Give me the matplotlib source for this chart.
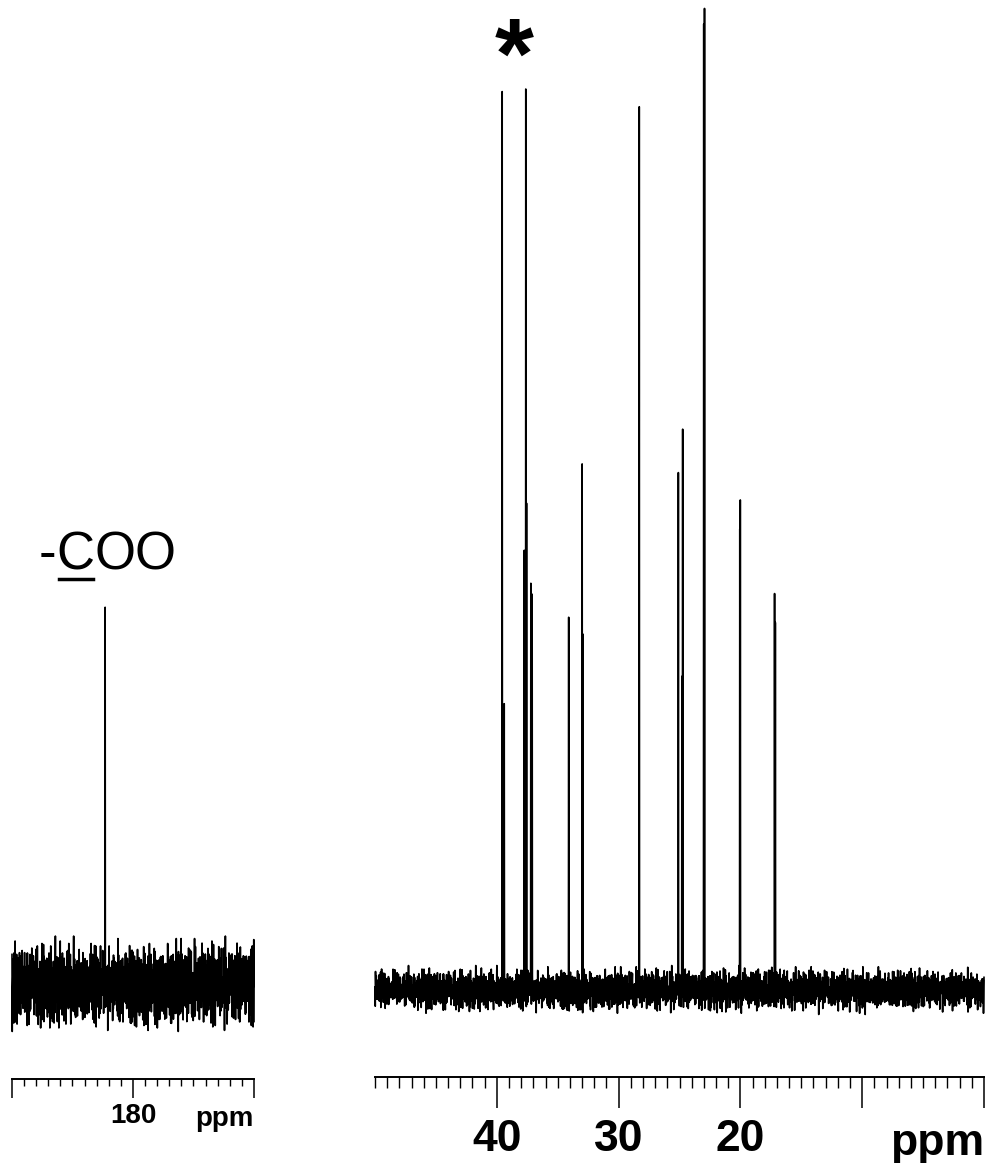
import numpy as np
import matplotlib
matplotlib.use("Agg")
import matplotlib.pyplot as plt
from matplotlib.ticker import MultipleLocator, FixedLocator, FixedFormatter
from matplotlib.lines import Line2D

plt.rcParams['font.family'] = ['Liberation Sans', 'DejaVu Sans']

# ---------------- data ----------------
# aliphatic region peaks (ppm, relative intensity; tallest = 100)
right_ppm = [39.55, 39.40, 37.75, 37.62, 37.56, 37.20, 37.10, 34.10, 33.00, 32.94,
             28.30, 25.10, 24.80, 24.74, 23.00, 22.94, 20.06, 20.00, 17.20, 17.14]
right_height = [91.8, 29.4, 45.0, 92.4, 49.6, 41.6, 40.7, 37.9, 54.1, 36.2,
                90.3, 53.0, 32.4, 57.1, 99.3, 100.0, 46.9, 50.3, 40.6, 37.7]
# carbonyl region peak
left_ppm = [182.3]
left_height = [38.4]

right_range = (50, 0)
left_range = (190, 170)
right_major = [40, 30, 20, 10, 0]
right_labels = ['40', '30', '20', '', '']
left_major = [190, 180, 170]
left_labels = ['', '180', '']

# hand-typed baseline noise samples
noise_a = [3, -5, 7, -2, 0, 6, -8, 4, -1, -6, 9, -3, 2, 5, -7, 1, -4, 8, -9, 0,
           3, -2, 6, -5, 4, -8, 7, 1, -3, -6, 2, 9, -1, -7, 5, 0, -4, 3, 8, -2,
           -9, 6, 1, -5, 4, -3, 7, -8, 2, 0, -6, 5, -1, 9, -4, 3, -7, 6, -2, 1, -5]
noise_b = [-2, 4, 1, -6, 3, -1, 5, -4, 2, 7, -3, 0, -5, 6, -2, 3, -7, 1, 4, -1,
           -6, 2, 5, -3, 0, 7, -4, 1, -2, 6, -5, 3, -1, -3, 4, 0, -6, 2, 5, -2,
           1, -4, 6, -1, 3, -5, 0, 2, -3, 4, -7, 1, -2]

W, H = 985, 1163
fig = plt.figure(figsize=(W / 100, H / 100), dpi=100)


def px_axes(x0, x1, ytop, ybot):
    return fig.add_axes([x0 / W, 1 - ybot / H, (x1 - x0) / W, (ybot - ytop) / H])


def noise(n, offset, scale):
    la, lb = len(noise_a), len(noise_b)
    vals = [noise_a[(i + offset) % la] + 0.7 * noise_b[(3 * i + offset) % lb] for i in range(n)]
    return scale * np.array(vals, dtype=float)


def spectrum(rng, npts, peaks, heights, offset, scale):
    x = np.linspace(rng[0], rng[1], npts)
    y = noise(npts, offset, scale)
    for p, h in zip(peaks, heights):
        idx = int(np.argmin(np.abs(x - p)))
        y[idx] = h + y[idx] * 0.2
    return x, y


PXU = 9.77  # pixels per intensity unit


def style_axis(ax, rng, major, labels, base_px, bot_px, top_px, fs, majlen, minlen, pad):
    ax.set_xlim(*rng)
    ax.set_ylim(-(bot_px - base_px) / PXU, (base_px - top_px) / PXU)
    for s in ['left', 'right', 'top']:
        ax.spines[s].set_visible(False)
    ax.spines['bottom'].set_linewidth(1.4)
    ax.set_yticks([])
    ax.xaxis.set_major_locator(FixedLocator(major))
    ax.xaxis.set_major_formatter(FixedFormatter(labels))
    ax.xaxis.set_minor_locator(MultipleLocator(1))
    ax.tick_params(axis='x', which='major', direction='out', length=majlen, width=1.1,
                   labelsize=fs, pad=pad)
    ax.tick_params(axis='x', which='minor', direction='out', length=minlen, width=1.0)
    for lab in ax.get_xticklabels():
        lab.set_fontweight('bold')
    ax.patch.set_alpha(0)


# right panel
axr = px_axes(375, 984, 0, 1077)
xr, yr = spectrum(right_range, 2400, right_ppm, right_height, 0, 0.18)
axr.plot(xr, yr, color='black', lw=1.2, clip_on=False)
style_axis(axr, right_range, right_major, right_labels, 990, 1077, 0, 32, 22, 8, 8)

# left panel
axl = px_axes(12, 254, 0, 1079)
xl, yl = spectrum(left_range, 1100, left_ppm, left_height, 17, 0.36)
axl.plot(xl, yl, color='black', lw=1.2, clip_on=False)
style_axis(axl, left_range, left_major, left_labels, 985, 1079, 0, 20, 14, 5, 3)

# ppm unit labels
fig.text(937 / W, 1 - 1155 / H, 'ppm', fontsize=32, fontweight='bold', ha='center', va='baseline')
fig.text(224 / W, 1 - 1126 / H, 'ppm', fontsize=20, fontweight='bold', ha='center', va='baseline')

# asterisk
fig.text(514 / W, 1 - 88 / H, '*', fontsize=72, fontweight='bold', ha='center', va='baseline')

# -COO label with underlined C
fig.canvas.draw()
r = fig.canvas.get_renderer()
y_base = 1 - 569 / H
t1 = fig.text(39 / W, y_base, '-', fontsize=38, ha='left', va='baseline')
bb1 = t1.get_window_extent(renderer=r)
t2 = fig.text(bb1.x1 / W, y_base, 'C', fontsize=38, ha='left', va='baseline')
bb2 = t2.get_window_extent(renderer=r)
t3 = fig.text(bb2.x1 / W, y_base, 'OO', fontsize=38, ha='left', va='baseline')
uy = 1 - 579 / H
fig.add_artist(Line2D([(bb2.x0 + 2) / W, (bb2.x1 - 2) / W], [uy, uy], color='black', lw=2.5,
                      transform=fig.transFigure))

fig.savefig('out.png', dpi=100)
